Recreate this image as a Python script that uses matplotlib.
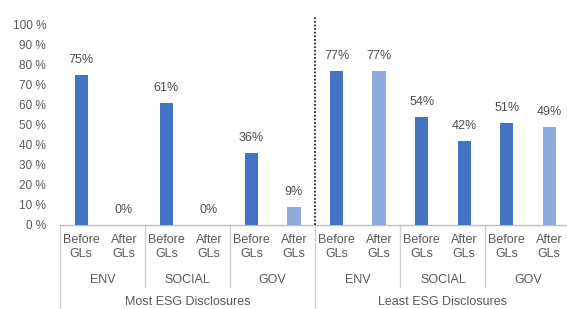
import matplotlib
matplotlib.use("Agg")
import matplotlib.pyplot as plt
from matplotlib.transforms import blended_transform_factory

plt.rcParams['font.family'] = ['Liberation Sans', 'DejaVu Sans']

# ---- data ----
groups = ["Most ESG Disclosures", "Least ESG Disclosures"]
pillars = ["ENV", "SOCIAL", "GOV"]
periods = ["Before\nGLs", "After\nGLs"]
most_values = [75, 0, 61, 0, 36, 9]
least_values = [77, 77, 54, 42, 51, 49]
yticks = [0, 10, 20, 30, 40, 50, 60, 70, 80, 90, 100]

values = most_values + least_values
dark = "#4472C4"
light = "#8FAADC"
bar_colors = [dark, light, dark, light, dark, light,
              dark, light, dark, dark, dark, light]

W, H = 567, 309
fig = plt.figure(figsize=(W / 100, H / 100), dpi=100)
x_left, x_right = 60, 570.5
y_bottom, y_top = 224.5, 17
ax = fig.add_axes([x_left / W, 1 - y_bottom / H, (x_right - x_left) / W, (y_bottom - y_top) / H])

xs = list(range(len(values)))
ax.bar(xs, values, width=0.31, color=bar_colors, zorder=3)
ax.set_xlim(-0.5, len(values) - 0.5)
ax.set_ylim(0, (y_bottom - y_top) / 2.0)

for x, v in zip(xs, values):
    ax.annotate(f"{v}%", (x, v), xytext=(0, 10.3), textcoords="offset points",
                ha="center", va="center", fontsize=9, color="#4D4D4D")

ax.set_yticks(yticks)
ax.set_yticklabels([f"{t} %" for t in yticks], fontsize=8.5, color="#595959")
ax.tick_params(axis="y", length=0, pad=10)
ax.set_xticks([])
for s in ["top", "right", "left"]:
    ax.spines[s].set_visible(False)
ax.spines["bottom"].set_color("#BFBFBF")
ax.spines["bottom"].set_linewidth(1.0)

tr = blended_transform_factory(ax.transData, fig.transFigure)
def fy(py):
    return 1 - py / H

# category labels
for i, x in enumerate(xs):
    ax.text(x, fy(247), periods[i % 2], transform=tr, ha="center", va="center",
            fontsize=9, color="#595959", linespacing=1.2, clip_on=False)
# pillar labels
for g in range(len(groups)):
    for p, name in enumerate(pillars):
        cx = g * 6 + p * 2 + 0.5
        ax.text(cx, fy(280), name, transform=tr, ha="center", va="center",
                fontsize=9, color="#595959", clip_on=False)
    ax.text(g * 6 + 2.5, fy(302), groups[g], transform=tr, ha="center", va="center",
            fontsize=9, color="#595959", clip_on=False)

# separators
for b in [1.5, 3.5, 7.5, 9.5]:
    ax.plot([b, b], [fy(y_bottom), fy(287)], transform=tr, color="#D0D0D0", lw=1.0, clip_on=False)
for b in [-0.5, 5.5, 11.5]:
    ax.plot([b, b], [fy(y_bottom), fy(309)], transform=tr, color="#D0D0D0", lw=1.0, clip_on=False)

# dotted divider
ax.plot([5.5, 5.5], [fy(y_bottom), fy(y_top)], transform=tr, color="#262626", lw=1.3,
        linestyle=(0, (1, 1)), clip_on=False, zorder=4)

fig.savefig("out.png", dpi=100)
